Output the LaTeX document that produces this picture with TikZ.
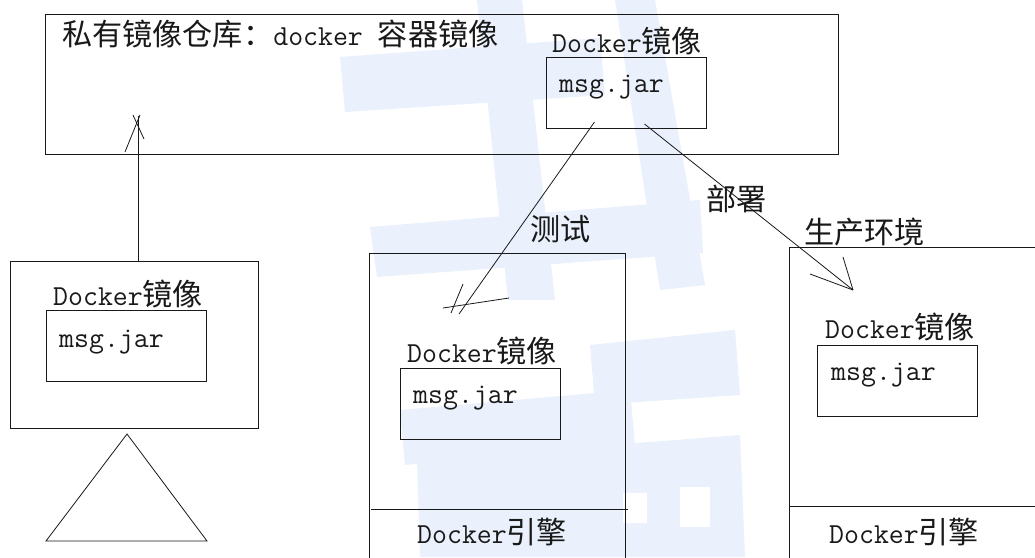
\documentclass[tikz,border=0pt]{standalone}
\usepackage{fontspec}
\newfontfamily\cjk{Noto Sans CJK SC}[Scale=1.04]
\definecolor{wmblue}{RGB}{234,241,252}
\definecolor{ink}{RGB}{25,25,25}
\tikzset{
  box/.style={draw=ink, line width=1pt, anchor=north west, inner sep=0pt},
  txt/.style={text=ink, anchor=base west, inner sep=0pt, font=\ttfamily\fontsize{29}{33}\selectfont},
  stroke/.style={draw=ink, line width=0.8pt},
}
\begin{document}
\begin{tikzpicture}[x=1pt, y=-1pt]
  \useasboundingbox (0,0) rectangle (1035,557);
  \clip (0,0) rectangle (1035,557);
  \fill[white] (0,0) rectangle (1035,557);

  % faint watermark behind the drawing
  \fill[wmblue] (340,57) -- (600,38) -- (605,95) -- (345,112) -- cycle;
  \fill[wmblue] (477,0) -- (522,0) -- (555,300) -- (508,300) -- cycle;
  \fill[wmblue] (615,0) -- (655,0) -- (705,285) -- (660,290) -- cycle;
  \fill[wmblue] (370,227) -- (700,200) -- (703,253) -- (377,277) -- cycle;
  \fill[wmblue] (400,410) -- (630,390) -- (635,445) -- (405,465) -- cycle;
  \fill[wmblue] (590,345) -- (735,330) -- (740,395) -- (595,405) -- cycle;
  \fill[wmblue] (417,460) -- (740,435) -- (745,557) -- (420,557) -- cycle;
  \fill[white] (623,493) rectangle (647,523);
  \fill[white] (680,487) rectangle (710,527);

  % registry, build host and the two environments
  \node[box, minimum width=793, minimum height=140] (repo) at (45,14) {};
  \node[txt] (repotitle) at (62,45) {{\cjk 私有镜像仓库：}docker {\cjk 容器镜像}};
  \node[box, minimum width=248, minimum height=167] (devenv) at (10,261) {};
  \node[box, minimum width=256, minimum height=330] (testenv) at (369,253) {};
  \node[box, minimum width=320, minimum height=330] (prodenv) at (789,247) {};
  \draw[stroke] (371,509) -- (628,509);
  \draw[stroke] (789,506) -- (1035,506);
  \draw[stroke] (46,541) -- (127,434) -- (207,541) -- cycle;

  % one image box per place
  \foreach \n/\bx/\by/\lx/\ly/\tx/\ty in {
    src/546/57/552/52/559/92,
    dev/46/310/53/305/59/347,
    test/400/368/407/362/413/403,
    prod/817/345/825/338/831/380}
  {
    \node[box, minimum width=160, minimum height=71] (\n jar) at (\bx,\by) {};
    \node[txt] (\n img) at (\lx,\ly) {Docker{\cjk 镜像}};
    \node[txt] (\n name) at (\tx,\ty) {msg.jar};
  }
  \node[txt] (testengine) at (417,543) {Docker{\cjk 引擎}};
  \node[txt] (prodengine) at (829,543) {Docker{\cjk 引擎}};

  \node[txt] (testlbl) at (530,240) {\cjk 测试};
  \node[txt] (deploylbl) at (706,210) {\cjk 部署};
  \node[txt] (prodlbl) at (804,243) {\cjk 生产环境};

  % push: hand drawn head
  \coordinate (pushend) at (138,116);
  \draw[stroke] (devenv.north -| pushend) -- (pushend);
  \draw[stroke] ([shift={(2,-1)}]pushend) -- ++(-15,37);
  \draw[stroke] ([shift={(-5,-1)}]pushend) -- ++(11,24);
  % test
  \coordinate (testend) at (459,314);
  \draw[stroke] ([shift={(-32,-7)}]srcjar.south) -- (testend);
  \draw[stroke] ([shift={(-16,-6)}]testend) -- ++(66,-10);
  \draw[stroke] ([shift={(-8,-1)}]testend) -- ++(12,-29);
  % deploy
  \coordinate (deployend) at (853,290);
  \draw[stroke] ([shift={(18,-5)}]srcjar.south) -- (deployend);
  \draw[stroke] (deployend) -- ++(-43,-16);
  \draw[stroke] (deployend) -- ++(-10,-33);
\end{tikzpicture}
\end{document}
